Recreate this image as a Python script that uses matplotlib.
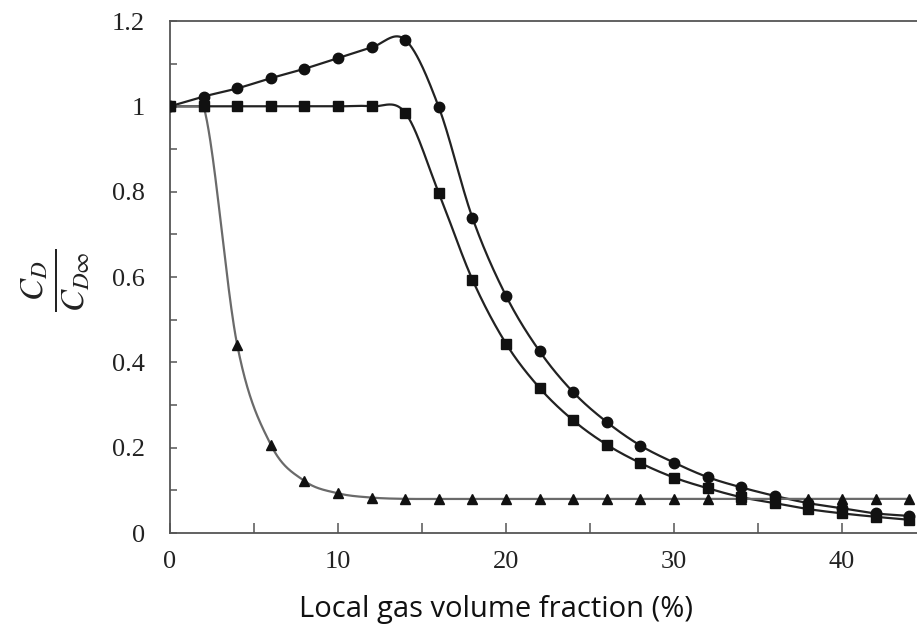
import numpy as np
import matplotlib
matplotlib.use('Agg')
import matplotlib.pyplot as plt
from matplotlib.ticker import MultipleLocator

# gas volume fraction (%)
x_vals = [0, 2, 4, 6, 8, 10, 12, 14, 16, 18, 20, 22, 24, 26, 28, 30,
          32, 34, 36, 38, 40, 42, 44]

circle_vals = [1.0, 1.023, 1.042, 1.066, 1.088, 1.113, 1.138, 1.156, 0.998,
               0.739, 0.556, 0.426, 0.330, 0.260, 0.205, 0.165, 0.131, 0.107,
               0.087, 0.070, 0.058, 0.046, 0.040]

square_vals = [1.0, 1.0, 1.0, 1.0, 1.0, 1.0, 1.0, 0.985, 0.797, 0.594,
               0.444, 0.340, 0.264, 0.207, 0.164, 0.130, 0.105, 0.084,
               0.070, 0.056, 0.046, 0.038, 0.031]

triangle_vals = [1.0, 1.0, 0.441, 0.207, 0.122, 0.093, 0.083, 0.080, 0.080,
                 0.080, 0.080, 0.080, 0.080, 0.080, 0.080, 0.080, 0.080,
                 0.080, 0.080, 0.080, 0.080, 0.080, 0.080]


def smooth(x, y, n=40):
    # Catmull-Rom style smoothing (like spreadsheet "smoothed line")
    x = np.asarray(x, float)
    y = np.asarray(y, float)
    m = np.zeros_like(y)
    m[1:-1] = (y[2:] - y[:-2]) / (x[2:] - x[:-2])
    m[0] = (y[1] - y[0]) / (x[1] - x[0])
    m[-1] = (y[-1] - y[-2]) / (x[-1] - x[-2])
    xs, ys = [], []
    for i in range(len(x) - 1):
        h = x[i + 1] - x[i]
        t = np.linspace(0, 1, n, endpoint=False)
        h00 = 2 * t**3 - 3 * t**2 + 1
        h10 = t**3 - 2 * t**2 + t
        h01 = -2 * t**3 + 3 * t**2
        h11 = t**3 - t**2
        xs.append(x[i] + t * h)
        ys.append(h00 * y[i] + h10 * h * m[i] + h01 * y[i + 1] + h11 * h * m[i + 1])
    xs.append([x[-1]])
    ys.append([y[-1]])
    return np.concatenate(xs), np.concatenate(ys)


plt.rcParams['mathtext.fontset'] = 'stix'

fig = plt.figure(figsize=(9.17, 6.26), dpi=100)
ax = fig.add_axes([170 / 917, 1 - 533 / 626, 1 - 170 / 917, (533 - 21) / 626])

for vals, marker, ms in [(circle_vals, 'o', 7.5),
                         (square_vals, 's', 6.5),
                         (triangle_vals, '^', 7.0)]:
    xs, ys = smooth(x_vals, vals)
    line_col = '#222222'
    if marker == '^':
        line_col = '#6a6a6a'
        ys = np.minimum(ys, max(vals))
    ax.plot(xs, ys, color=line_col, lw=1.6, zorder=2)
    ax.plot(x_vals, vals, linestyle='none', marker=marker, markersize=ms,
            color='#111111', zorder=3)

ax.set_xlim(0, (917 - 170) / 16.8)
ax.set_ylim(0, 1.2)

ax.xaxis.set_major_locator(MultipleLocator(10))
ax.xaxis.set_minor_locator(MultipleLocator(5))
ax.yaxis.set_minor_locator(MultipleLocator(0.1))
ax.set_yticks([0, 0.2, 0.4, 0.6, 0.8, 1.0, 1.2])
ax.set_yticklabels(['0', '0.2', '0.4', '0.6', '0.8', '1', '1.2'])

for sp in ['left', 'bottom', 'top']:
    ax.spines[sp].set_color('#555555')
    ax.spines[sp].set_linewidth(1.3)
ax.spines['right'].set_visible(False)

ax.tick_params(axis='both', which='both', direction='in', color='#555555',
               width=1.1, labelsize=19, labelcolor='#222222')
ax.tick_params(axis='x', which='both', length=7, pad=13)
ax.tick_params(axis='y', which='both', length=5, pad=18)
for lab in ax.get_xticklabels() + ax.get_yticklabels():
    lab.set_family('Liberation Serif')

fig.text(56 / 917, 1 - 280 / 626, r'$\frac{C_D}{C_{D\infty}}$', rotation=90,
         ha='center', va='center', fontsize=34, color='#222222')
fig.text(496 / 917, 1 - 610 / 626, 'Local gas volume fraction (%)',
         ha='center', va='center', fontsize=21, family='Open Sans',
         color='#111111')

fig.savefig('out.png', dpi=100)
